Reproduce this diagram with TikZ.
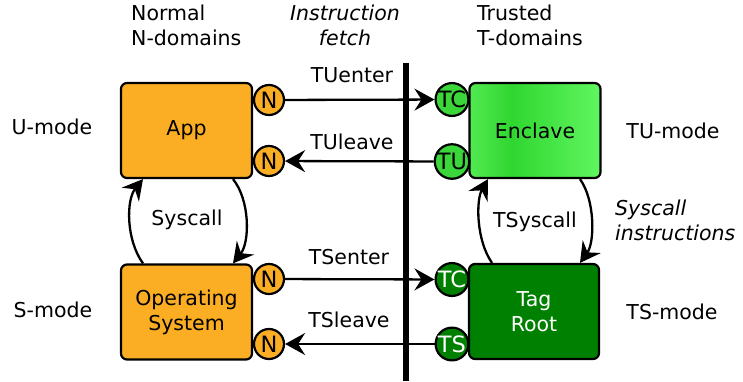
\documentclass[tikz,border=0pt]{standalone}
\usepackage{fontspec}
\setmainfont{DejaVu Sans}
\usetikzlibrary{arrows.meta}
\definecolor{orng}{HTML}{FBAE24}
\definecolor{lime}{HTML}{3AD63A}
\definecolor{dgreen}{HTML}{008000}
\definecolor{gA}{HTML}{52EA52}
\definecolor{gB}{HTML}{30D630}
\definecolor{gC}{HTML}{60F660}
\pgfdeclarehorizontalshading{enclsh}{100bp}{color(0bp)=(gA); color(25bp)=(gA); color(41bp)=(gB); color(75bp)=(gC); color(100bp)=(gC)}
\begin{document}
\begin{tikzpicture}[x=1pt,y=-1pt,
  every node/.style={font=\fontsize{20.5}{25}\selectfont},
  box/.style={draw, line width=2.2pt, rounded corners=6pt, minimum width=131pt, minimum height=95pt, align=center},
  port/.style={circle, draw, line width=2.2pt, minimum size=30pt, inner sep=0pt, font=\fontsize{22.5}{25}\selectfont},
  arr/.style={line width=2.3pt, arrows={-Stealth[length=20pt,width=22pt,inset=7pt]}},
  lbl/.style={inner sep=0pt},
  ital/.style={inner sep=0pt, font=\fontsize{20.5}{25}\selectfont\itshape}
]
\useasboundingbox (0,0) rectangle (743,381);

% bar
\coordinate (bartop) at (406,63);
\coordinate (barbot) at (406,381);
\draw[line width=6pt] (bartop) -- (barbot);

% boxes
\node[box, fill=orng] (app) at (186.5,130.5) {App};
\node[box, fill=orng] (os) at (186.5,312) {Operating\\System};
\node[box, shade, shading=enclsh] (encl) at (535,130.5) {Enclave};
\node[box, fill=dgreen, text=white, minimum width=130pt] (tag) at (534,311.5) {Tag\\Root};

% ports
\node[port, fill=orng] (n1) at (269,100) {N};
\node[port, fill=orng] (n2) at (269,161) {N};
\node[port, fill=orng] (n3) at (269,279) {N};
\node[port, fill=orng] (n4) at (269,344) {N};
\node[port, fill=lime] (tc1) at (452,99.5) {TC};
\node[port, fill=lime] (tu) at (452,161.5) {TU};
\node[port, fill=dgreen, text=white] (tc2) at (452,279.5) {TC};
\node[port, fill=dgreen, text=white] (ts) at (452,344) {TS};

% transitions
\draw[arr] (n1) -- (tc1);
\draw[arr] (tu) -- (n2);
\draw[arr] (n3) -- (tc2);
\draw[arr] (ts) -- (n4);

\node[lbl] (l1) at (352,75) {TUenter};
\node[lbl] (l2) at (352,142) {TUleave};
\node[lbl] (l3) at (349,257) {TSenter};
\node[lbl] (l4) at (349,320) {TSleave};

% syscall loops
\draw[arr] ([xshift=46.5pt]app.south) .. controls (250,200) and (250,242) .. ([xshift=46.5pt]os.north);
\draw[arr] ([xshift=-43.5pt]os.north) .. controls (126,240) and (126,200) .. ([xshift=-43.5pt]app.south);
\draw[arr] ([xshift=45pt]encl.south) .. controls (595,200) and (595,242) .. ([xshift=46pt]tag.north);
\draw[arr] ([xshift=-42pt]tag.north) .. controls (476,240) and (476,200) .. ([xshift=-47pt]encl.south);

\node[lbl] (sc) at (187,220) {Syscall};
\node[lbl] (tsc) at (535,222) {TSyscall};

% side labels
\node[lbl] (um) at (52,127) {U-mode};
\node[lbl] (sm) at (53,310) {S-mode};
\node[lbl] (tum) at (673,131) {TU-mode};
\node[lbl] (tsm) at (672,312) {TS-mode};
\node[ital, anchor=west, align=left] (si) at (615,220) {Syscall\\instructions};

% headers
\node[lbl, anchor=west, align=left] (hn) at (131,25) {Normal\\N-domains};
\node[ital, align=center] (hi) at (345,25) {Instruction\\fetch};
\node[lbl, anchor=west, align=left] (ht) at (477,25) {Trusted\\T-domains};
\end{tikzpicture}
\end{document}
